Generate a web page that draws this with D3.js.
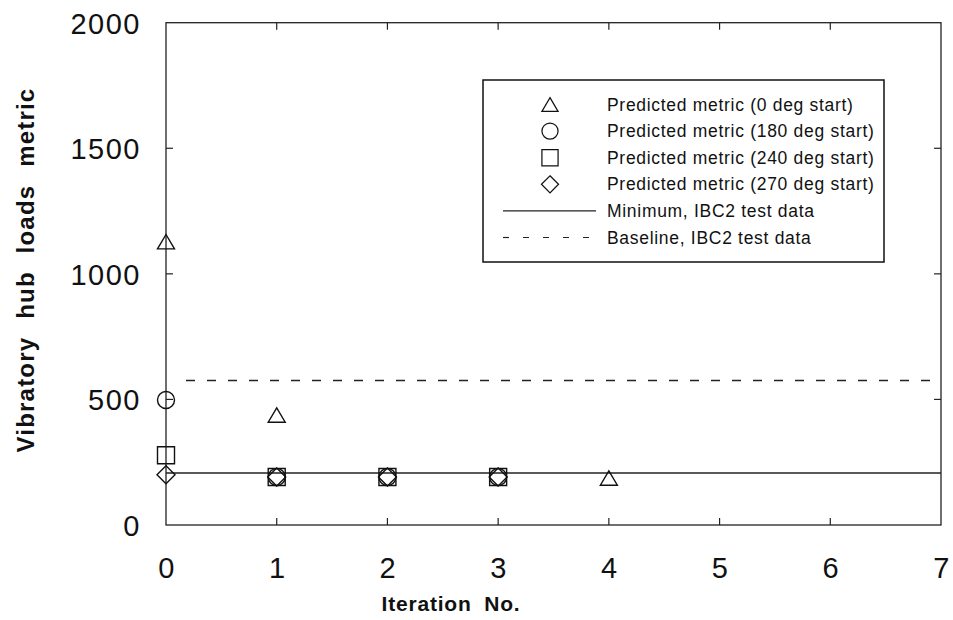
<!DOCTYPE html>
<html>
<head>
<meta charset="utf-8">
<script src="https://cdn.jsdelivr.net/npm/d3@7"></script>
<style>
  body { margin: 0; background: #fff; }
  text { font-family: "Liberation Sans", Arial, sans-serif; fill: #111; }
</style>
</head>
<body>
<div id="chart"></div>
<script>
// iterations and predicted metric values per start angle
const iter0 = [0, 1, 4];
const metric0 = [1128, 438, 187];
const iter180 = [0, 1, 2, 3];
const metric180 = [498, 191, 191, 191];
const iter240 = [0, 1, 2, 3];
const metric240 = [278, 191, 191, 191];
const iter270 = [0, 1, 2, 3];
const metric270 = [200, 191, 191, 191];
const minimumValue = 207;
const baselineValue = 575;

const xTicks = [0, 1, 2, 3, 4, 5, 6, 7];
const yTicks = [0, 500, 1000, 1500, 2000];

const legendLabels = [
  "Predicted metric (0 deg start)",
  "Predicted metric (180 deg start)",
  "Predicted metric (240 deg start)",
  "Predicted metric (270 deg start)",
  "Minimum, IBC2 test data",
  "Baseline, IBC2 test data"
];

const width = 953, height = 620;
const margin = {left: 166, right: 12, top: 22.7, bottom: 95};

const svg = d3.select("#chart").append("svg")
    .attr("width", width)
    .attr("height", height);

const x = d3.scaleLinear().domain([0, 7]).range([margin.left, width - margin.right]);
const y = d3.scaleLinear().domain([0, 2000]).range([height - margin.bottom, margin.top]);

// frame
svg.append("rect")
    .attr("x", x(0)).attr("y", y(2000))
    .attr("width", x(7) - x(0)).attr("height", y(0) - y(2000))
    .attr("fill", "none").attr("stroke", "#222").attr("stroke-width", 1.3);

// inward ticks on all four sides
const tickLen = 7;
const ticks = svg.append("g").attr("stroke", "#222").attr("stroke-width", 1.2);
xTicks.slice(1, -1).forEach(t => {
  ticks.append("line").attr("x1", x(t)).attr("x2", x(t)).attr("y1", y(0)).attr("y2", y(0) - tickLen);
  ticks.append("line").attr("x1", x(t)).attr("x2", x(t)).attr("y1", y(2000)).attr("y2", y(2000) + tickLen);
});
yTicks.slice(1, -1).forEach(t => {
  ticks.append("line").attr("x1", x(0)).attr("x2", x(0) + tickLen).attr("y1", y(t)).attr("y2", y(t));
  ticks.append("line").attr("x1", x(7)).attr("x2", x(7) - tickLen).attr("y1", y(t)).attr("y2", y(t));
});

// tick labels
svg.append("g").selectAll("text")
  .data(xTicks)
  .join("text")
    .attr("x", d => x(d) + 1)
    .attr("y", y(0) + 53)
    .attr("text-anchor", "middle")
    .attr("font-size", 29)
    .attr("letter-spacing", 1.5)
    .text(d => d);

svg.append("g").selectAll("text")
  .data(yTicks)
  .join("text")
    .attr("x", x(0) - 25)
    .attr("y", d => y(d) + 11)
    .attr("text-anchor", "end")
    .attr("font-size", 29)
    .attr("letter-spacing", 1.5)
    .text(d => d);

// axis titles
svg.append("text")
    .attr("x", 451).attr("y", 611)
    .attr("text-anchor", "middle")
    .attr("font-size", 21).attr("font-weight", "bold")
    .attr("letter-spacing", 0.8)
    .attr("word-spacing", 6)
    .text("Iteration No.");

svg.append("text")
    .attr("transform", `translate(34, 270) rotate(-90)`)
    .attr("text-anchor", "middle")
    .attr("font-size", 24).attr("font-weight", "bold")
    .attr("letter-spacing", 1.2)
    .attr("word-spacing", 10)
    .text("Vibratory hub loads metric");

// reference lines
svg.append("line")
    .attr("x1", x(0)).attr("x2", x(7))
    .attr("y1", y(minimumValue)).attr("y2", y(minimumValue))
    .attr("stroke", "#222").attr("stroke-width", 1.4);
svg.append("line")
    .attr("x1", x(0) + 20).attr("x2", x(7))
    .attr("y1", y(baselineValue)).attr("y2", y(baselineValue))
    .attr("stroke", "#222").attr("stroke-width", 1.5)
    .attr("stroke-dasharray", "9,12");

// markers, centred on their bounding box
const shapePath = {
  triangle: "M0,-7.2L8.5,7.2L-8.5,7.2Z",
  circle: d3.symbol().type(d3.symbolCircle).size(Math.PI * 8.5 * 8.5)(),
  square: "M-8.5,-8.5H8.5V8.5H-8.5Z",
  diamond: "M0,-9L9,0L0,9L-9,0Z"
};

function drawSeries(xs, ys, shape) {
  svg.append("g").selectAll("path")
    .data(xs.map((d, i) => [d, ys[i]]))
    .join("path")
      .attr("d", shapePath[shape])
      .attr("transform", d => `translate(${x(d[0])},${y(d[1])})`)
      .attr("fill", "none")
      .attr("stroke", "#111")
      .attr("stroke-width", 1.4);
}
drawSeries(iter240, metric240, "square");
drawSeries(iter180, metric180, "circle");
drawSeries(iter270, metric270, "diamond");
drawSeries(iter0, metric0, "triangle");

// legend
const legend = svg.append("g");
legend.append("rect")
    .attr("x", 483).attr("y", 80)
    .attr("width", 401).attr("height", 182)
    .attr("fill", "#fff").attr("stroke", "#111").attr("stroke-width", 1.5);

const shapes = ["triangle", "circle", "square", "diamond"];
const rowY = i => 104.5 + i * 26.6;
legendLabels.forEach((lab, i) => {
  if (i < 4) {
    legend.append("path")
      .attr("d", shapePath[shapes[i]])
      .attr("transform", `translate(550,${rowY(i)}) scale(0.95)`)
      .attr("fill", "none").attr("stroke", "#111").attr("stroke-width", 1.3);
  } else {
    legend.append("line")
      .attr("x1", 503).attr("x2", 596)
      .attr("y1", rowY(i)).attr("y2", rowY(i))
      .attr("stroke", "#222").attr("stroke-width", 1.2)
      .attr("stroke-dasharray", i === 5 ? "6,14" : null);
  }
  legend.append("text")
    .attr("x", 607).attr("y", rowY(i) + 6)
    .attr("font-size", 17.5)
    .attr("letter-spacing", 0.7)
    .text(lab);
});
</script>
</body>
</html>
